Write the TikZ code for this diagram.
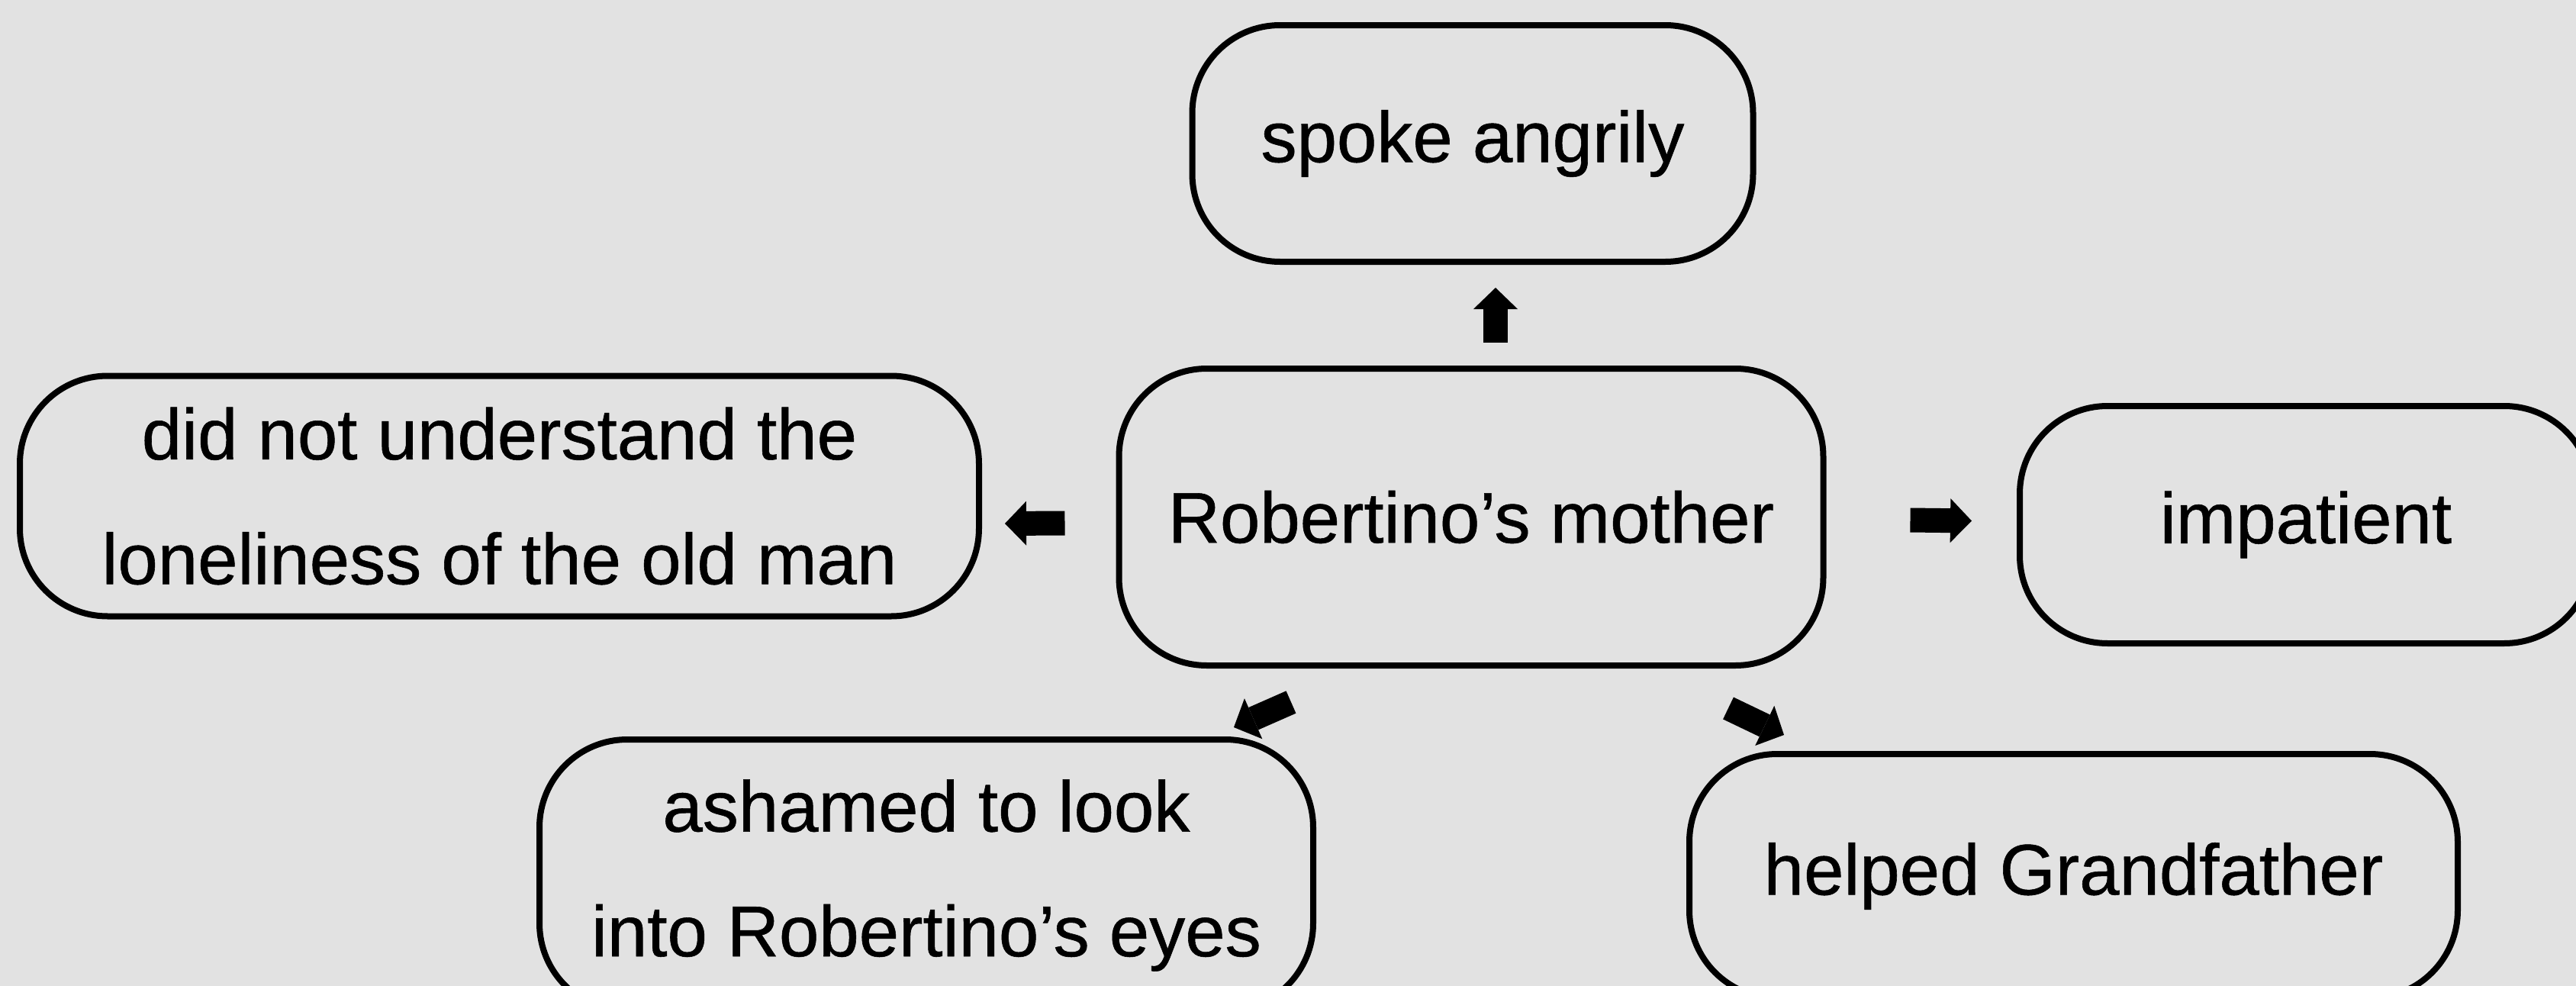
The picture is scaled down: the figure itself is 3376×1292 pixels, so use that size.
\documentclass[tikz,border=0pt]{standalone}
\usepackage{fontspec}
\setmainfont{Liberation Sans}[FakeBold=0.6]
\newfontfamily\boxfont{Liberation Sans}[FakeBold=0.6]
\usetikzlibrary{arrows.meta,calc}
\definecolor{bg}{HTML}{E2E2E2}
\begin{document}
\begin{tikzpicture}[x=0.1mm,y=-0.1mm,
  box/.style={draw=black, line width=0.8mm, rounded corners=11.5mm, inner sep=0pt,
    align=center, font=\boxfont\fontsize{26.8pt}{46.5pt}\selectfont},
  barrow/.style={line width=3.2mm, -{Triangle[width=5.8mm,length=2.8mm,line width=0pt]}}]
\useasboundingbox (0,0) rectangle (3376,1292);
\fill[bg] (0,0) rectangle (3376,1292);
\clip (0,0) rectangle (3376,1292);

\node[box, minimum width=73.5mm, minimum height=31mm] (spoke) at (1930,188) {spoke angrily};
\node[box, minimum width=92.3mm, minimum height=38.9mm] (mom) at (1928,677.5) {Robertino’s mother};
\node[box, minimum width=125.7mm, minimum height=31.5mm] (lone) at (654.5,650) {did not understand the\\loneliness of the old man};
\node[box, minimum width=75mm, minimum height=31.1mm] (imp) at (3022,687.5) {impatient};
\node[box, minimum width=101.4mm, minimum height=35.6mm] (ash) at (1214,1147) {ashamed to look\\into Robertino’s eyes};
\node[box, minimum width=100.7mm, minimum height=32mm] (help) at (2717.5,1148) {helped Grandfather};

\coordinate (upS) at ($(mom.north)+(32,-30)$);
\coordinate (upE) at ($(spoke.south)+(30,30)$);
\coordinate (lfS) at ($(mom.west)+(-67,8)$);
\coordinate (lfE) at ($(lone.east)+(30,36)$);
\coordinate (rtS) at ($(mom.east)+(110,4)$);
\coordinate (rtE) at ($(imp.west)+(-59,-5)$);
\coordinate (dlS) at (1692,920);
\coordinate (dlE) at (1617,953);
\coordinate (drS) at (2265,928);
\coordinate (drE) at (2338,963);

\draw[barrow] (upS) -- (upE);
\draw[barrow] (lfS) -- (lfE);
\draw[barrow] (rtS) -- (rtE);
\draw[barrow] (dlS) -- (dlE);
\draw[barrow] (drS) -- (drE);
\end{tikzpicture}
\end{document}
